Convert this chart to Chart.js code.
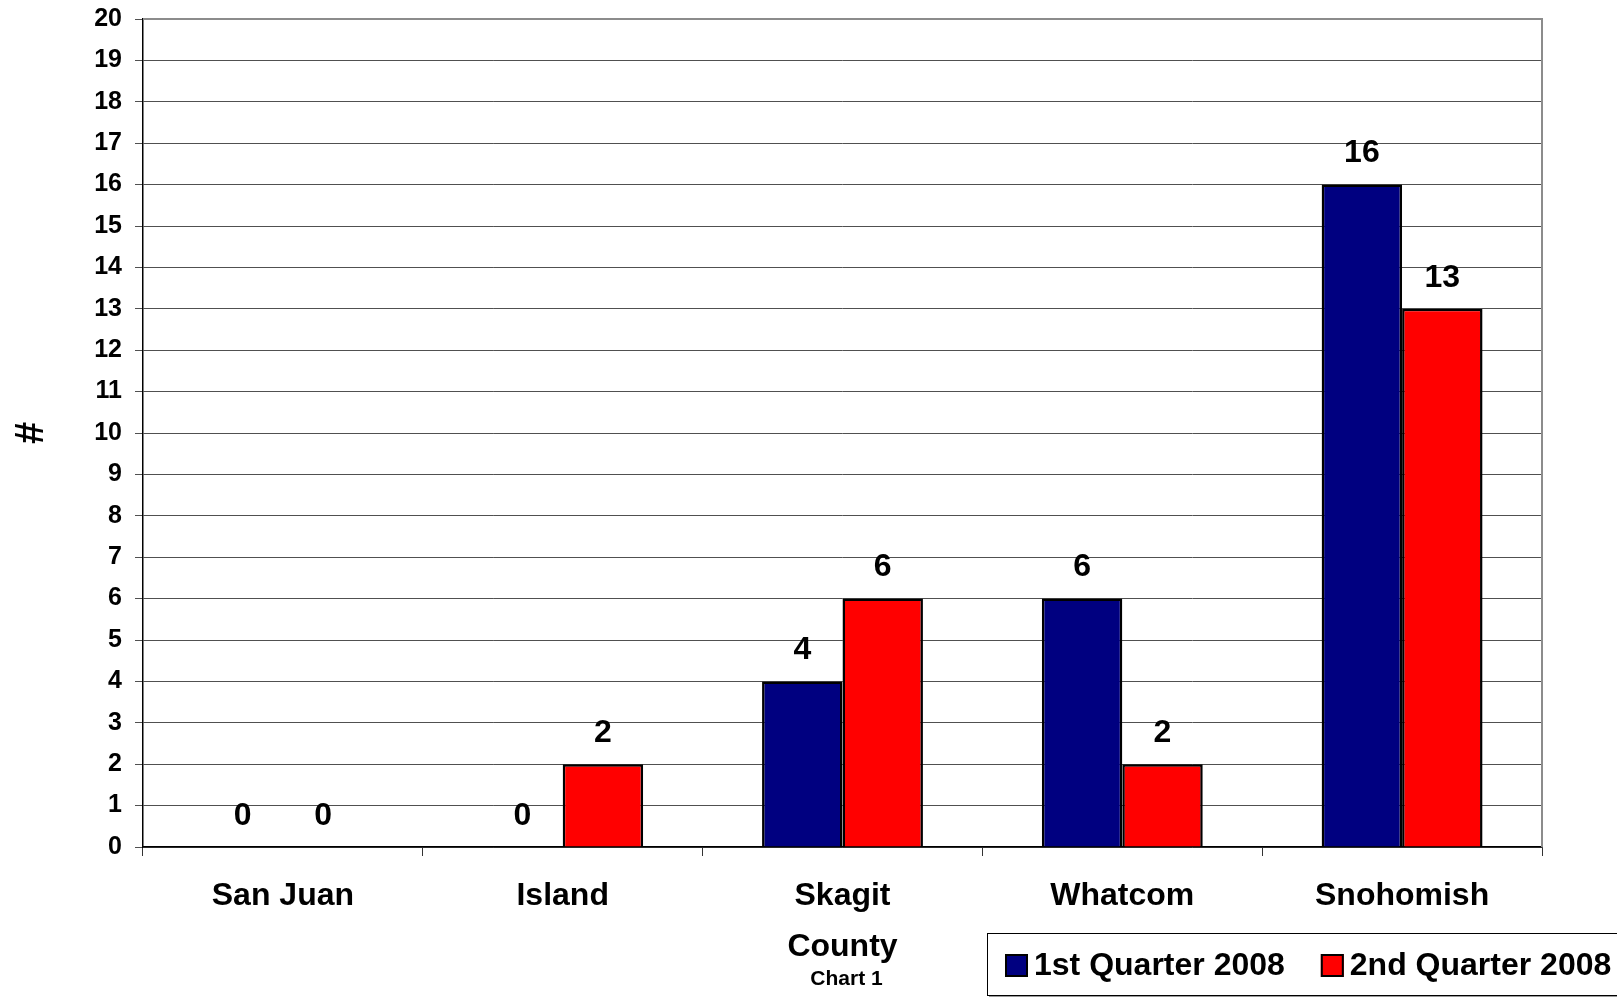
<!DOCTYPE html>
<html>
<head>
<meta charset="utf-8">
<script src="https://cdn.jsdelivr.net/npm/chart.js@4"></script>
<style>
html,body{margin:0;padding:0;background:#fff;}
canvas{display:block;}
</style>
</head>
<body>
<canvas id="c" width="1617" height="997"></canvas>
<script>
const categories = ["San Juan", "Island", "Skagit", "Whatcom", "Snohomish"];
const q1Values = [0, 0, 4, 6, 16];
const q2Values = [0, 2, 6, 2, 13];
const seriesLabels = ["1st Quarter 2008", "2nd Quarter 2008"];
const seriesColors = ["#000080", "#FF0000"];
const yTicks = [0, 20, 1]; // min, max, step
const xTitle = "County";
const yTitle = "#";
const subCaption = "Chart 1";

const FONT = "'Liberation Sans', Arial, sans-serif";

const labelsPlugin = {
  id: 'valueLabels',
  afterDatasetsDraw(chart) {
    const ctx = chart.ctx;
    ctx.save();
    ctx.font = "bold 32px " + FONT;
    ctx.fillStyle = "#000";
    ctx.textAlign = "center";
    ctx.textBaseline = "middle";
    chart.data.datasets.forEach((ds, i) => {
      const meta = chart.getDatasetMeta(i);
      meta.data.forEach((bar, j) => {
        ctx.fillText(String(ds.data[j]), bar.x, bar.y - 31);
      });
    });
    ctx.restore();
  }
};

const framePlugin = {
  id: 'frame',
  afterDraw(chart) {
    const ctx = chart.ctx;
    const a = chart.chartArea;
    ctx.save();
    ctx.strokeStyle = "#8c8c8c";
    ctx.lineWidth = 2;
    ctx.beginPath();
    ctx.moveTo(a.left, a.top);
    ctx.lineTo(a.right, a.top);
    ctx.lineTo(a.right, a.bottom);
    ctx.stroke();
    ctx.font = "bold 21px " + FONT;
    ctx.fillStyle = "#000";
    ctx.textAlign = "center";
    ctx.textBaseline = "middle";
    ctx.fillText(subCaption, (a.left + a.right) / 2 + 4, 979);
    const bx = 987, by = 933, bw = 640, bh = 62;
    ctx.fillStyle = "#9a9a9a";
    ctx.fillRect(bx + 2, by + bh, bw, 2);
    ctx.fillStyle = "#fff";
    ctx.fillRect(bx, by, bw, bh);
    ctx.strokeStyle = "#000";
    ctx.lineWidth = 1;
    ctx.strokeRect(bx + 0.5, by + 0.5, bw, bh);
    ctx.font = "bold 32px " + FONT;
    ctx.textAlign = "left";
    let x = 1005;
    const cy = 965;
    chart.data.datasets.forEach((ds, i) => {
      ctx.fillStyle = ds.backgroundColor;
      ctx.fillRect(x, cy - 11, 23, 23);
      ctx.strokeStyle = "#000";
      ctx.lineWidth = 2;
      ctx.strokeRect(x + 1, cy - 10, 21, 21);
      ctx.fillStyle = "#000";
      ctx.fillText(ds.label, x + 29, cy + 1);
      x += 29 + ctx.measureText(ds.label).width + 36;
    });
    ctx.restore();
  }
};

new Chart(document.getElementById('c'), {
  type: 'bar',
  data: {
    labels: categories,
    datasets: [
      { label: seriesLabels[0], data: q1Values, backgroundColor: seriesColors[0], borderColor: "#000", borderWidth: 2.5 },
      { label: seriesLabels[1], data: q2Values, backgroundColor: seriesColors[1], borderColor: "#000", borderWidth: 2.5 }
    ]
  },
  options: {
    responsive: false,
    animation: false,
    devicePixelRatio: 1,
    layout: { padding: { top: 19, right: 75, left: 0, bottom: 0 } },
    datasets: { bar: { categoryPercentage: 0.575, barPercentage: 1.0 } },
    plugins: { legend: { display: false }, tooltip: { enabled: false } },
    scales: {
      x: {
        afterFit(s) { s.height = 150; },
        grid: { display: true, drawOnChartArea: false, drawTicks: true, tickLength: 9, color: "#333", offset: true },
        border: { display: true, color: "#000", width: 1.5 },
        ticks: { color: "#000", font: { family: FONT, size: 32, weight: "bold" }, padding: 21, maxRotation: 0 },
        title: { display: true, text: xTitle, color: "#000", font: { family: FONT, size: 32, weight: "bold" }, padding: { top: 0, bottom: 31 } }
      },
      y: {
        min: yTicks[0], max: yTicks[1],
        afterFit(s) { s.width = 143; s.paddingTop = 0; s.paddingBottom = 0; },
        grid: { color: "#505050", lineWidth: 1, tickLength: 8, drawTicks: true },
        border: { display: true, color: "#000", width: 1.5 },
        ticks: { stepSize: yTicks[2], color: "#000", font: { family: FONT, size: 25, weight: "bold" }, padding: 13 },
        title: { display: true, text: yTitle, color: "#000", font: { family: FONT, size: 40, weight: "bold" }, padding: { top: 8, bottom: 0 } }
      }
    }
  },
  plugins: [labelsPlugin, framePlugin]
});
</script>
</body>
</html>
